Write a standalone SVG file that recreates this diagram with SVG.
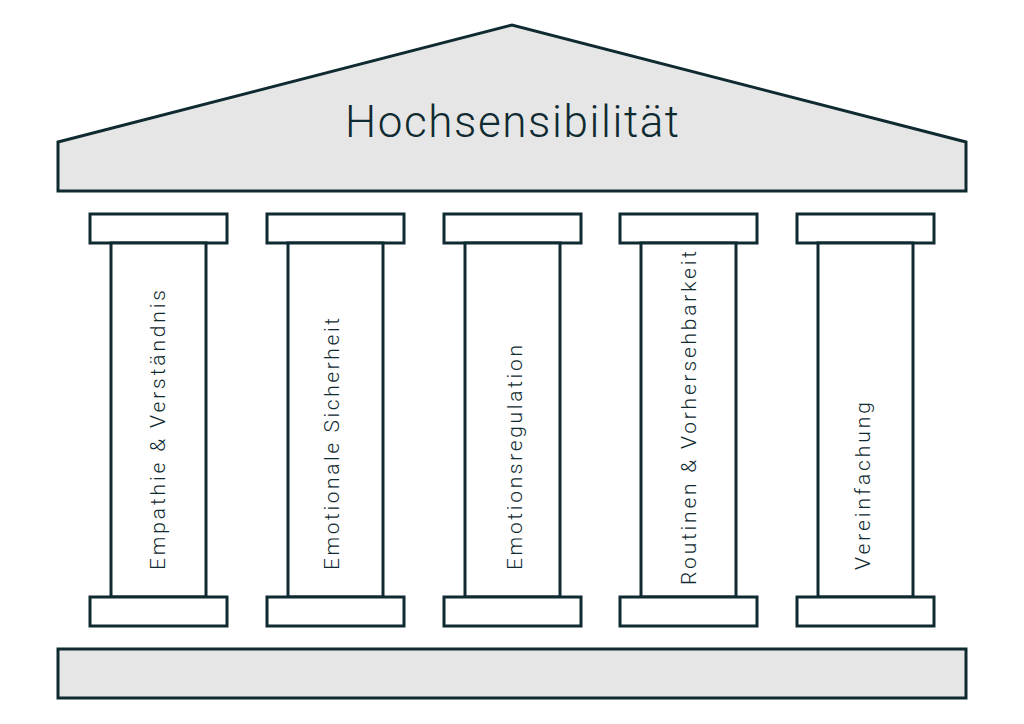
<svg xmlns="http://www.w3.org/2000/svg" width="1024" height="724" viewBox="0 0 1024 724">
<style>
.s{fill:#e6e6e6;stroke:#0f2a30;stroke-width:3}
.w{fill:#fff;stroke:#0f2a30;stroke-width:3}
.t{font-family:Roboto,"Liberation Sans",sans-serif;fill:#0f2a30;font-weight:300}
.c{font-size:21px}
</style>
<rect width="1024" height="724" fill="#fff"/>
<g id="roof"><polygon class="s" points="58,142 512,25 966,142 966,191 58,191"/>
<text class="t" x="512" y="137" font-size="44" text-anchor="middle" textLength="334">Hochsensibilität</text></g>
<g id="p1"><rect class="w" x="90" y="214" width="137" height="29"/><rect class="w" x="111" y="243" width="95" height="354"/><rect class="w" x="90" y="597" width="137" height="29"/>
<text class="t c" transform="translate(165,570) rotate(-90)" textLength="280">Empathie &amp; Verständnis</text></g>
<g id="p2"><rect class="w" x="267" y="214" width="137" height="29"/><rect class="w" x="288" y="243" width="95" height="354"/><rect class="w" x="267" y="597" width="137" height="29"/>
<text class="t c" transform="translate(339,570) rotate(-90)" textLength="252">Emotionale Sicherheit</text></g>
<g id="p3"><rect class="w" x="444" y="214" width="137" height="29"/><rect class="w" x="465" y="243" width="95" height="354"/><rect class="w" x="444" y="597" width="137" height="29"/>
<text class="t c" transform="translate(522,570) rotate(-90)" textLength="225">Emotionsregulation</text></g>
<g id="p4"><rect class="w" x="620" y="214" width="137" height="29"/><rect class="w" x="641" y="243" width="95" height="354"/><rect class="w" x="620" y="597" width="137" height="29"/>
<text class="t c" transform="translate(696,585) rotate(-90)" textLength="334">Routinen &amp; Vorhersehbarkeit</text></g>
<g id="p5"><rect class="w" x="797" y="214" width="137" height="29"/><rect class="w" x="818" y="243" width="95" height="354"/><rect class="w" x="797" y="597" width="137" height="29"/>
<text class="t c" transform="translate(870,570) rotate(-90)" textLength="168">Vereinfachung</text></g>
<g id="base"><rect class="s" x="58" y="649" width="908" height="49"/></g>
<g id="connectors"/>
</svg>
